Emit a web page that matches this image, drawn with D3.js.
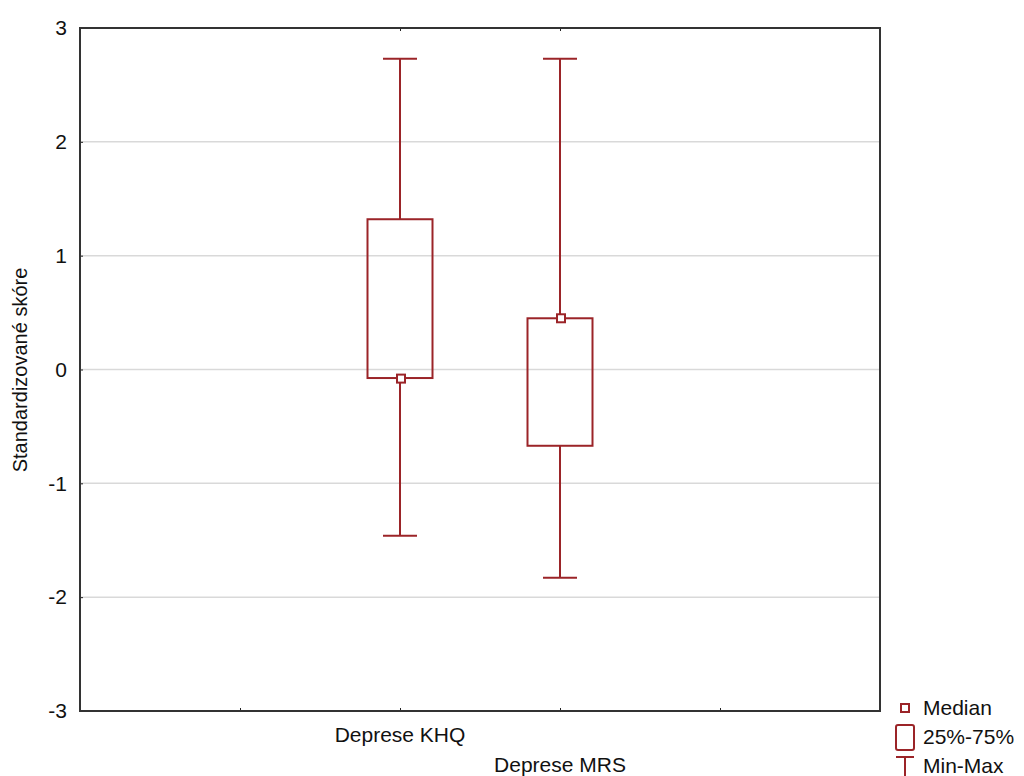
<!DOCTYPE html>
<html>
<head>
<meta charset="utf-8">
<script src="https://cdn.jsdelivr.net/npm/d3@7"></script>
<style>
body{margin:0;background:#fff}
text{font-family:"Liberation Sans",Arial,sans-serif}
</style>
</head>
<body>
<script>
// data
const categories=["Deprese KHQ","Deprese MRS"]
const mins=[-1.46,-1.83]
const q1=[-0.075,-0.67]
const medians=[-0.08,0.45]
const q3=[1.32,0.45]
const maxs=[2.73,2.73]
const yTicks=[-3,-2,-1,0,1,2,3]
const legendItems=["Median","25%-75%","Min-Max"]

const W=1024,H=776
const red="#9b2428"
const fs=21

const svg=d3.select("body").append("svg").attr("width",W).attr("height",H)

const x=d3.scalePoint().domain(["a"].concat(categories,["b"])).range([80,880]).padding(1)
const y=d3.scaleLinear().domain([-3,3]).range([711,28])

// grid
svg.append("g").selectAll("line").data(yTicks.filter(d=>Math.abs(d)<3)).enter().append("line")
	.attr("x1",80).attr("x2",880)
	.attr("y1",d=>y(d)).attr("y2",d=>y(d))
	.attr("stroke","#d9d9d9").attr("stroke-width",1.5)

// axes (ticks inside)
const yAxis=svg.append("g").attr("transform","translate(80,0)")
	.call(d3.axisLeft(y).tickValues(yTicks).tickSize(-3).tickPadding(13))
yAxis.select(".domain").remove()
yAxis.selectAll("line").attr("stroke","#222")
// plain hyphen for minus, like the original
yAxis.selectAll("text").text(d=>String(d))
	.attr("font-size",fs).attr("fill","#111").attr("font-family","Liberation Sans, Arial, sans-serif")

const xAxis=svg.append("g").attr("transform","translate(0,711)")
	.call(d3.axisBottom(x).tickSize(-3).tickFormat(""))
xAxis.select(".domain").remove()
xAxis.selectAll("line").attr("stroke","#222")
const xTop=svg.append("g").attr("transform","translate(0,28)")
	.call(d3.axisTop(x).tickValues(categories).tickSize(-3).tickFormat(""))
xTop.select(".domain").remove()
xTop.selectAll("line").attr("stroke","#222")

// staggered category labels
svg.append("g").selectAll("text").data(categories).enter().append("text")
	.attr("x",d=>x(d)).attr("y",(d,i)=>735+i*30).attr("dy","0.35em")
	.attr("text-anchor","middle").attr("font-size",fs).attr("fill","#111")
	.text(d=>d)

// frame
svg.append("rect").attr("x",80).attr("y",28).attr("width",800).attr("height",683)
	.attr("fill","none").attr("stroke","#333").attr("stroke-width",2)

// y title
svg.append("text").attr("transform","translate(20,370) rotate(-90)")
	.attr("text-anchor","middle").attr("dy","0.35em").attr("font-size",fs-1).attr("fill","#111")
	.text("Standardizované skóre")

// boxes
const bw=65,cw=34,ms=8
const g=svg.append("g").selectAll("g").data(categories).enter().append("g")
g.append("line").attr("x1",d=>x(d)).attr("x2",d=>x(d))
	.attr("y1",(d,i)=>y(maxs[i])).attr("y2",(d,i)=>y(q3[i]))
	.attr("stroke",red).attr("stroke-width",2)
g.append("line").attr("x1",d=>x(d)).attr("x2",d=>x(d))
	.attr("y1",(d,i)=>y(q1[i])).attr("y2",(d,i)=>y(mins[i]))
	.attr("stroke",red).attr("stroke-width",2)
g.append("line").attr("x1",d=>x(d)-cw/2).attr("x2",d=>x(d)+cw/2)
	.attr("y1",(d,i)=>y(maxs[i])).attr("y2",(d,i)=>y(maxs[i]))
	.attr("stroke",red).attr("stroke-width",2)
g.append("line").attr("x1",d=>x(d)-cw/2).attr("x2",d=>x(d)+cw/2)
	.attr("y1",(d,i)=>y(mins[i])).attr("y2",(d,i)=>y(mins[i]))
	.attr("stroke",red).attr("stroke-width",2)
g.append("rect").attr("x",d=>x(d)-bw/2).attr("width",bw)
	.attr("y",(d,i)=>y(q3[i])).attr("height",(d,i)=>y(q1[i])-y(q3[i]))
	.attr("fill","none").attr("stroke",red).attr("stroke-width",2)
g.append("rect").attr("x",d=>x(d)-ms/2+1).attr("width",ms)
	.attr("y",(d,i)=>y(medians[i])-ms/2).attr("height",ms)
	.attr("fill","#fff").attr("stroke",red).attr("stroke-width",2)

// legend
const lg=svg.append("g")
lg.append("rect").attr("x",901).attr("y",704).attr("width",8).attr("height",8)
	.attr("fill","#fff").attr("stroke",red).attr("stroke-width",2)
lg.append("rect").attr("x",896).attr("y",725).attr("width",18).attr("height",25).attr("rx",2)
	.attr("fill","#fff").attr("stroke",red).attr("stroke-width",2)
lg.append("line").attr("x1",896).attr("x2",914).attr("y1",757).attr("y2",757).attr("stroke",red).attr("stroke-width",2)
lg.append("line").attr("x1",905).attr("x2",905).attr("y1",757).attr("y2",776).attr("stroke",red).attr("stroke-width",2)
lg.selectAll("text").data(legendItems).enter().append("text")
	.attr("x",923).attr("y",(d,i)=>708+i*29).attr("dy","0.35em")
	.attr("font-size",fs).attr("fill","#111").text(d=>d)
</script>
</body>
</html>
